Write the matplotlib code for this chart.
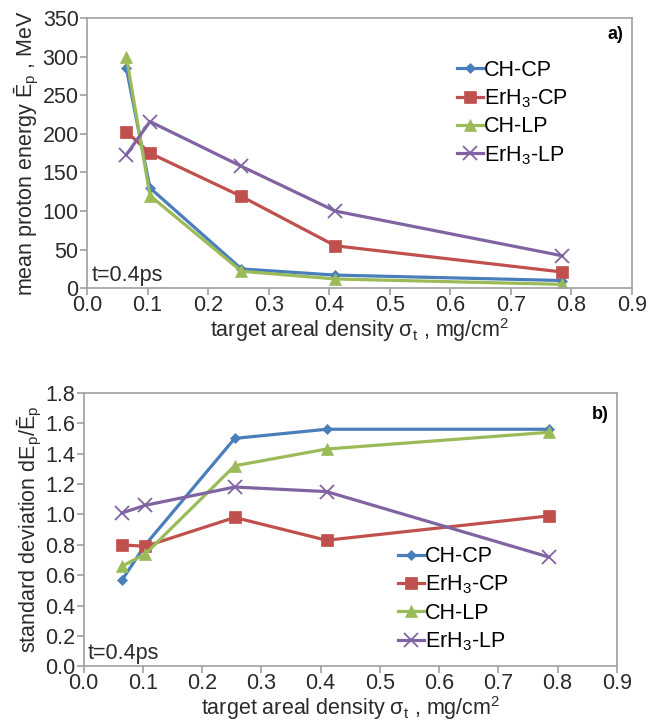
import matplotlib
matplotlib.use("Agg")
from matplotlib import pyplot as plt

plt.rcParams['font.family'] = ['Liberation Sans', 'DejaVu Sans']
plt.rcParams['mathtext.fontset'] = 'custom'
plt.rcParams['mathtext.rm'] = 'Liberation Sans'
plt.rcParams['mathtext.it'] = 'Liberation Sans'

# data
sigma = [0.065, 0.104, 0.255, 0.41, 0.785]
labels = ['CH-CP', 'ErH$_3$-CP', 'CH-LP', 'ErH$_3$-LP']
colors = ['#4a7ebb', '#c0504d', '#9bbb59', '#8064a2']
markers = ['D', 's', '^', 'x']
msizes = [5, 9, 9, 10]

energy_ch_cp = [285, 130, 25, 17, 10]
energy_erh_cp = [203, 175, 119, 55, 21]
energy_ch_lp = [300, 120, 22, 12, 5]
energy_erh_lp = [173, 216, 158, 100, 42]

dev_ch_cp = [0.57, 0.80, 1.50, 1.56, 1.56]
dev_erh_cp = [0.80, 0.79, 0.98, 0.83, 0.99]
dev_ch_lp = [0.66, 0.74, 1.32, 1.43, 1.54]
dev_erh_lp = [1.01, 1.06, 1.18, 1.15, 0.72]

xticks = [0.0, 0.1, 0.2, 0.3, 0.4, 0.5, 0.6, 0.7, 0.8, 0.9]

fig = plt.figure(figsize=(6.59, 7.26), dpi=100)
ax1 = fig.add_axes([0.132, 0.603, 0.827, 0.372])
ax2 = fig.add_axes([0.127, 0.082, 0.809, 0.377])

xlab = 'target areal density σ$_\\mathrm{t}$ , mg/cm$^2$'
fs = 15.5


def style(ax):
    for s in ax.spines.values():
        s.set_color('#a0a0a0')
        s.set_linewidth(1.2)
    ax.tick_params(colors='#a0a0a0', labelcolor='#2a2a2a', labelsize=fs,
                   length=5, width=1.2, pad=1)
    ax.tick_params(axis='x', pad=0)
    ax.set_xlim(0, 0.9)
    ax.set_xticks(xticks)
    ax.set_xticklabels(['%.1f' % t for t in xticks])
    ax.set_xlabel(xlab, fontsize=fs, color='#2a2a2a', labelpad=0)
    ax.text(0.008, 0.01, 't=0.4ps', transform=ax.transAxes, fontsize=fs,
            color='#2a2a2a', va='bottom')


series1 = [energy_ch_cp, energy_erh_cp, energy_ch_lp, energy_erh_lp]
for y, lab, c, m, ms in zip(series1, labels, colors, markers, msizes):
    ax1.plot(sigma, y, color=c, marker=m, ms=ms, lw=2.3, label=lab,
             mew=1.3 if m == 'x' else 0.5, mec=c)
style(ax1)
ax1.set_ylim(0, 350)
ax1.set_yticks(range(0, 351, 50))
ax1.set_ylabel('mean proton energy Ē$_\\mathrm{p}$ , MeV', fontsize=fs,
               color='#2a2a2a', labelpad=1)
ax1.text(0.985, 0.97, 'a)', transform=ax1.transAxes, fontsize=13,
         fontweight='bold', ha='right', va='top')
ax1.legend(loc='upper left', bbox_to_anchor=(0.66, 0.885), frameon=False,
           fontsize=fs, handlelength=1.2, handletextpad=0.05,
           labelspacing=0.3, borderpad=0)

series2 = [dev_ch_cp, dev_erh_cp, dev_ch_lp, dev_erh_lp]
for y, lab, c, m, ms in zip(series2, labels, colors, markers, msizes):
    ax2.plot(sigma, y, color=c, marker=m, ms=ms, lw=2.3, label=lab,
             mew=1.3 if m == 'x' else 0.5, mec=c)
style(ax2)
ax2.set_ylim(0, 1.8)
ax2.set_yticks([i * 0.2 for i in range(10)])
ax2.set_yticklabels(['%.1f' % (i * 0.2) for i in range(10)])
ax2.set_ylabel('standard deviation dE$_\\mathrm{p}$/Ē$_\\mathrm{p}$',
               fontsize=fs, color='#2a2a2a', labelpad=1)
ax2.text(0.985, 0.95, 'b)', transform=ax2.transAxes, fontsize=13,
         fontweight='bold', ha='right', va='top')
ax2.legend(loc='lower left', bbox_to_anchor=(0.57, 0.01), frameon=False,
           fontsize=fs, handlelength=1.2, handletextpad=0.05,
           labelspacing=0.3, borderpad=0)

plt.savefig('out.png', dpi=100)
